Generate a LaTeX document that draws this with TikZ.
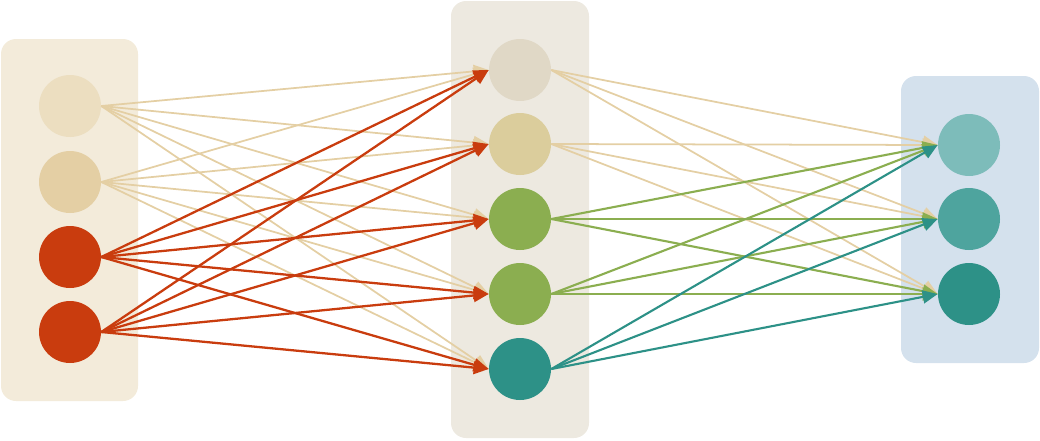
\documentclass[tikz,border=0pt]{standalone}
\usetikzlibrary{arrows.meta}
\definecolor{cream}{RGB}{243,235,218}
\definecolor{midbox}{RGB}{237,233,224}
\definecolor{skyish}{RGB}{212,225,237}
\definecolor{sand}{RGB}{228,207,164}
\definecolor{sandlight}{RGB}{236,222,192}
\definecolor{sandblue}{RGB}{224,216,198}
\definecolor{sanddot}{RGB}{219,205,156}
\definecolor{rust}{RGB}{201,60,14}
\definecolor{olive}{RGB}{139,174,80}
\definecolor{teal}{RGB}{45,145,135}
\definecolor{teallight}{RGB}{125,188,186}
\definecolor{tealmid}{RGB}{78,164,158}
\begin{document}
\begin{tikzpicture}[x=0.02cm,y=-0.02cm]
        \tikzstyle{neuron} = [circle,minimum size=1.24cm,inner sep=0pt]
        \tikzstyle{layer_box} = [rounded corners=0.3cm]
        \tikzstyle{link} = [-{Triangle[length=0.3cm,width=0.26cm]},line width=1pt]
        \useasboundingbox (0,0) rectangle (1040,440);
        % layers
        \fill[layer_box,cream] (1,39) rectangle (138,401);
        \fill[layer_box,midbox] (451,1) rectangle (589,438);
        \fill[layer_box,skyish] (901,76) rectangle (1039,363);
        % input layer
        \node[neuron,fill=sandlight] (in1) at (70,106) {};
        \node[neuron,fill=sand] (in2) at (70,182) {};
        \node[neuron,fill=rust] (in3) at (70,257) {};
        \node[neuron,fill=rust] (in4) at (70,332) {};
        % hidden layer
        \node[neuron,fill=sandblue] (hid1) at (520,70) {};
        \node[neuron,fill=sanddot] (hid2) at (520,144) {};
        \node[neuron,fill=olive] (hid3) at (520,219) {};
        \node[neuron,fill=olive] (hid4) at (520,294) {};
        \node[neuron,fill=teal] (hid5) at (520,369) {};
        % output layer
        \node[neuron,fill=teallight] (out1) at (969,145) {};
        \node[neuron,fill=tealmid] (out2) at (969,219) {};
        \node[neuron,fill=teal] (out3) at (969,294) {};
        % connections
        \foreach \j in {1,...,5} {
          \draw[link,sand] (in1.east) -- (hid\j.west);
          \draw[link,sand] (in2.east) -- (hid\j.west);
        }
        \foreach \i in {3,4} \foreach \j in {1,...,5}
          \draw[link,rust,line width=1.3pt] (in\i.east) -- (hid\j.west);
        \foreach \i in {1,2} \foreach \k in {1,2,3}
          \draw[link,sand] (hid\i.east) -- (out\k.west);
        \foreach \i in {3,4} \foreach \k in {1,2,3}
          \draw[link,olive,line width=1.2pt] (hid\i.east) -- (out\k.west);
        \foreach \k in {1,2,3}
          \draw[link,teal,line width=1.2pt] (hid5.east) -- (out\k.west);
      \end{tikzpicture}
\end{document}
